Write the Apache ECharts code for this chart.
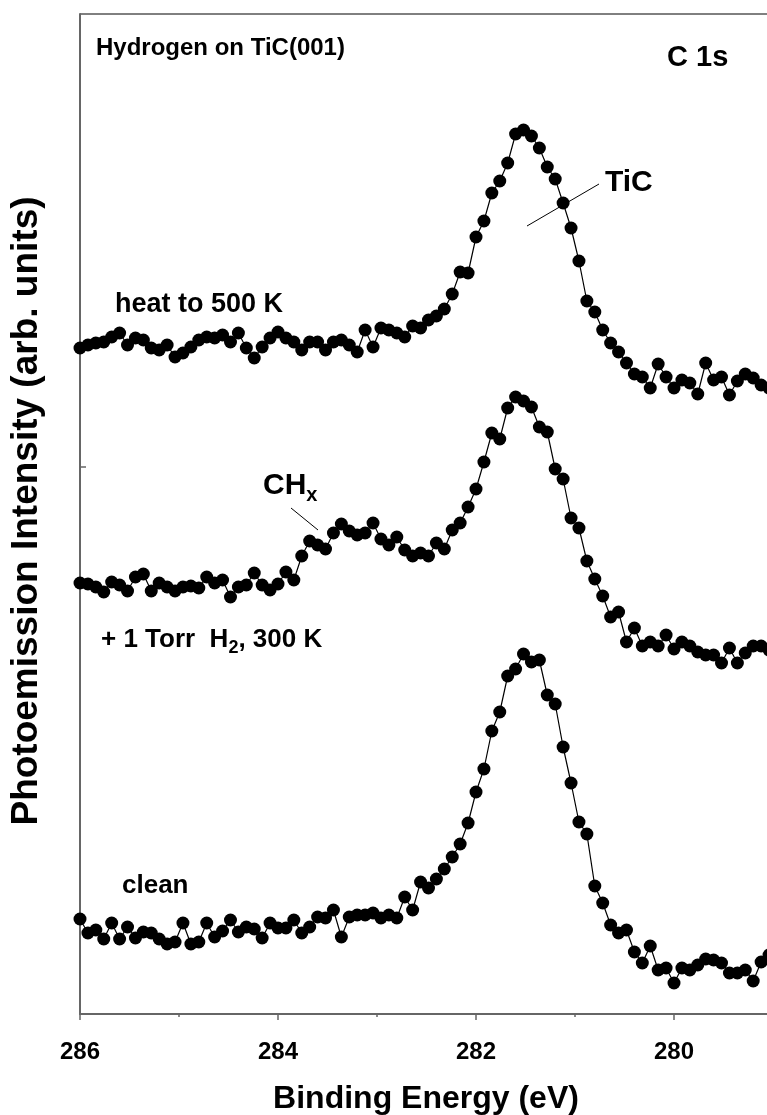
<!DOCTYPE html>
<html><head><meta charset="utf-8">
<script src="https://cdn.jsdelivr.net/npm/echarts@6/dist/echarts.min.js"></script>
<style>html,body{margin:0;padding:0;background:#fff}#c{width:767px;height:1115px}</style>
</head><body><div id="c"></div>
<script>
// Binding energies (eV)
const energy = [
286.00,285.92,285.84,285.76,285.68,285.60,285.52,285.44,285.36,285.28,
285.20,285.12,285.04,284.96,284.88,284.80,284.72,284.64,284.56,284.48,
284.40,284.32,284.24,284.16,284.08,284.00,283.92,283.84,283.76,283.68,
283.60,283.52,283.44,283.36,283.28,283.20,283.12,283.04,282.96,282.88,
282.80,282.72,282.64,282.56,282.48,282.40,282.32,282.24,282.16,282.08,
282.00,281.92,281.84,281.76,281.68,281.60,281.52,281.44,281.36,281.28,
281.20,281.12,281.04,280.96,280.88,280.80,280.72,280.64,280.56,280.48,
280.40,280.32,280.24,280.16,280.08,280.00,279.92,279.84,279.76,279.68,
279.60,279.52,279.44,279.36,279.28,279.20,279.12,279.04];
// heat to 500 K (offset, arb. units)
const heat = [
666,669,671,672,677,681,669,676,674,666,
664,669,657,661,667,674,677,676,679,672,
681,666,656,667,676,682,676,672,664,672,
672,664,672,674,669,662,684,667,686,684,
681,677,688,686,694,698,705,720,742,741,
777,793,821,833,851,880,884,878,866,847,
835,811,786,753,713,702,684,671,662,651,
640,637,626,650,637,626,634,631,620,651,
634,637,619,633,640,636,629,626];
// + 1 Torr H2, 300 K
const hydro = [
431,430,427,422,432,429,423,437,440,423,
431,427,423,427,428,426,437,431,434,417,
427,429,441,429,424,430,442,434,458,473,
469,465,481,490,483,479,481,491,475,469,
477,464,458,461,458,471,465,484,491,507,
525,552,581,575,606,617,613,607,587,582,
545,535,496,486,453,435,418,397,402,372,
386,368,372,368,379,365,372,368,362,359,
359,351,366,351,361,368,368,364];
// clean
const clean = [
95,81,84,75,91,75,87,76,82,81,
75,70,72,91,70,72,91,77,83,94,
82,87,85,76,91,86,86,94,81,87,
97,96,104,77,97,99,99,101,96,99,
96,117,104,132,126,135,145,157,170,191,
222,245,283,302,338,345,360,352,354,319,
310,267,231,192,180,128,111,89,81,84,
62,51,68,44,46,31,46,44,49,55,
54,51,41,41,44,33,52,59];
const xTickValues = [286,284,282,280,278];
const yTickValues = [547];

const FONT = '"Liberation Sans", Arial, sans-serif';
const chart = echarts.init(document.getElementById('c'), null, {renderer:'canvas'});

function pairs(ys){ return energy.map((e,i)=>[e, ys[i]]); }
function mkSeries(name, ys){
  return {name, type:'line', data:pairs(ys), symbol:'circle', symbolSize:13,
    itemStyle:{color:'#000'}, lineStyle:{color:'#000', width:1.2},
    clip:true, animation:false, z:3};
}
const mctx = document.createElement('canvas').getContext('2d');
function tw(t, fs){ mctx.font = 'bold '+fs+'px '+FONT; return mctx.measureText(t).width; }
function txt(t, x, y, fs, extra){
  return Object.assign({type:'text', x, y, style:{text:t, fill:'#000', font:'bold '+fs+'px '+FONT, textVerticalAlign:'middle', textAlign:'left'}, z:10}, extra||{});
}
const g = [];
g.push(txt('Hydrogen on TiC(001)', 96, 48, 24));
g.push(txt('C 1s', 667, 58, 29));
g.push(txt('TiC', 605, 183, 30));
g.push({type:'line', shape:{x1:527,y1:226,x2:599,y2:184}, style:{stroke:'#000', lineWidth:1}, z:10});
g.push(txt('heat to 500 K', 115, 305, 27));
g.push(txt('CH', 263, 486, 30));
g.push(txt('x', 263+tw('CH',30), 495, 20));
g.push({type:'line', shape:{x1:291,y1:508,x2:318,y2:530}, style:{stroke:'#000', lineWidth:1}, z:10});
(function(){
  const a = '+ 1 Torr  H', b='2', c=', 300 K';
  const x0 = 101;
  g.push(txt(a, x0, 640, 26));
  const x1 = x0 + tw(a,26);
  g.push(txt(b, x1, 648, 18));
  g.push(txt(c, x1 + tw(b,18), 640, 26));
})();
g.push(txt('clean', 122, 886, 26));
g.push({type:'text', x:27, y:511, rotation:Math.PI/2, style:{text:'Photoemission Intensity (arb. units)', fill:'#000', font:'bold 37px '+FONT, textAlign:'center', textVerticalAlign:'middle'}, z:10});
g.push({type:'text', x:426, y:1099, style:{text:'Binding Energy (eV)', fill:'#000', font:'bold 32px '+FONT, textAlign:'center', textVerticalAlign:'middle'}, z:10});

chart.setOption({
  animation:false,
  backgroundColor:'#fff',
  grid:{left:80, width:792, top:14, bottom:101, show:true, borderColor:'#000', borderWidth:1, outerBoundsMode:'none', containLabel:false},
  xAxis:{type:'value', min:278, max:286, interval:2, inverse:true,
    axisLine:{show:true, onZero:false, lineStyle:{color:'#666', width:2}},
    axisTick:{show:true, length:6, lineStyle:{color:'#666', width:1.5}},
    minorTick:{show:true, splitNumber:2, length:3, lineStyle:{color:'#666', width:1.5}},
    splitLine:{show:false},
    axisLabel:{show:true, margin:26, color:'#000', fontFamily:FONT, fontWeight:'bold', fontSize:24,
      formatter:v=> xTickValues.indexOf(v)>=0 ? String(v) : ''}
  },
  yAxis:{type:'value', min:0, max:1000,
    axisLine:{show:true, lineStyle:{color:'#666', width:2}},
    axisTick:{show:true, inside:true, length:6, customValues:yTickValues, lineStyle:{color:'#666', width:1.5}},
    axisLabel:{show:false}, splitLine:{show:false}
  },
  series:[mkSeries('heat to 500 K', heat), mkSeries('+ 1 Torr H2, 300 K', hydro), mkSeries('clean', clean)],
  graphic:g
});
</script></body></html>
